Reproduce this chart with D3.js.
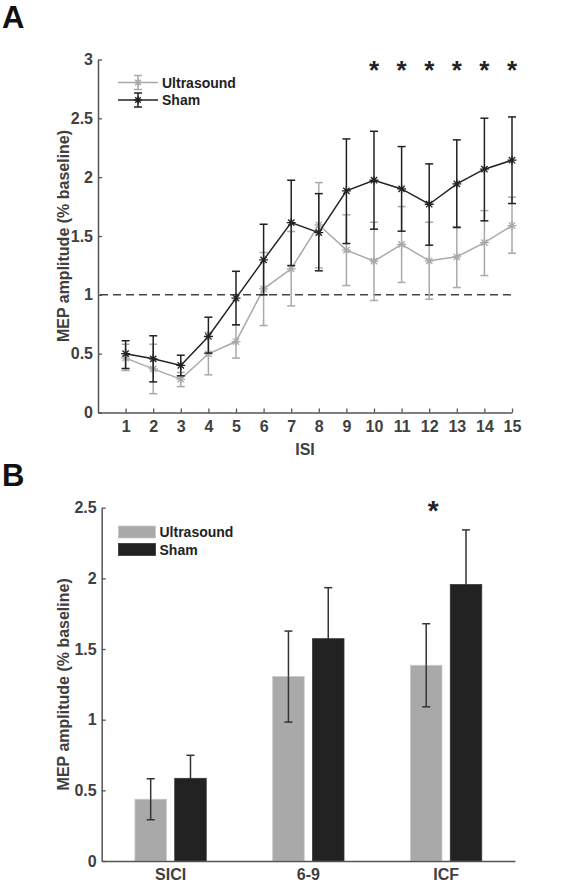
<!DOCTYPE html>
<html>
<head>
<meta charset="utf-8">
<script src="https://cdn.jsdelivr.net/npm/d3@7"></script>
<style>
  html, body { margin: 0; padding: 0; background: #fff; }
  svg { display: block; font-family: Arial, "Liberation Sans", sans-serif; }
</style>
</head>
<body>
<svg id="chart" width="566" height="884"></svg>
<script>
// ---------- Panel A data ----------
const isi = [1,2,3,4,5,6,7,8,9,10,11,12,13,14,15];
const shamMean = [0.50,0.456,0.40,0.646,0.972,1.297,1.614,1.529,1.884,1.974,1.90,1.77,1.943,2.068,2.144];
const shamLow  = [0.374,0.26,0.312,0.505,0.745,1.0,1.249,1.204,1.436,1.558,1.541,1.422,1.572,1.629,1.776];
const shamHigh = [0.61,0.652,0.487,0.81,1.20,1.60,1.974,1.86,2.325,2.39,2.26,2.113,2.317,2.501,2.512];
const usMean = [0.462,0.371,0.284,0.499,0.603,1.051,1.221,1.595,1.38,1.286,1.428,1.289,1.323,1.444,1.589];
const usLow  = [0.357,0.16,0.22,0.32,0.462,0.739,0.906,1.229,1.079,0.952,1.105,0.963,1.062,1.164,1.354];
const usHigh = [0.58,0.58,0.34,0.68,0.745,1.36,1.538,1.954,1.68,1.617,1.75,1.617,1.58,1.716,1.83];
const sigIsi = [10,11,12,13,14,15];
const yTicksA = [0,0.5,1,1.5,2,2.5,3];

// ---------- Panel B data ----------
const groups = ["SICI","6-9","ICF"];
const barUsMean = [0.437,1.305,1.385];
const barUsErr  = [0.145,0.322,0.294];
const barShamMean = [0.585,1.573,1.956];
const barShamErr  = [0.163,0.361,0.387];
const sigGroups = ["ICF"];
const yTicksB = [0,0.5,1,1.5,2,2.5];

const seriesNames = ["Ultrasound","Sham"];
const cUs = "#a9a9a9", cSham = "#222222", axisCol = "#555555", txtCol = "#404040";
const FS = 16;

const svg = d3.select("#chart");

function asterisk(g, x, y, color, r) {
  g.append("path")
    .attr("d", `M${x-r},${y}L${x+r},${y}M${x},${y-r}L${x},${y+r}` +
               `M${x-r*0.7},${y-r*0.7}L${x+r*0.7},${y+r*0.7}M${x-r*0.7},${y+r*0.7}L${x+r*0.7},${y-r*0.7}`)
    .attr("stroke", color).attr("stroke-width", 1.3).attr("fill", "none");
}

function styleAxis(g) {
  g.selectAll(".domain").attr("stroke", axisCol).attr("stroke-width", 1.5);
  g.selectAll(".tick line").attr("stroke", axisCol).attr("stroke-width", 1.3);
  g.selectAll(".tick text").attr("fill", txtCol).attr("font-size", FS).attr("font-weight", "bold")
    .attr("font-family", "Arial, 'Liberation Sans', sans-serif");
}

// ================= Panel A =================
const xA = d3.scaleLinear().domain([0,15]).range([98,512]);
const yA = d3.scaleLinear().domain([0,3]).range([412.5,59.5]);

svg.append("text").attr("x",2).attr("y",28).text("A")
  .attr("font-size",31).attr("font-weight","bold").attr("fill","#111");

const gAx = svg.append("g").attr("transform",`translate(0,${yA(0)})`)
  .call(d3.axisBottom(xA).tickValues(isi).tickSizeInner(-4).tickSizeOuter(0).tickPadding(8).tickFormat(d3.format("d")));
styleAxis(gAx);
const gAy = svg.append("g").attr("transform",`translate(${xA(0)},0)`)
  .call(d3.axisLeft(yA).tickValues(yTicksA).tickSizeInner(-4).tickSizeOuter(0).tickPadding(5).tickFormat(d => d));
styleAxis(gAy);

svg.append("text").attr("x", (xA(0)+xA(15))/2).attr("y", 455).attr("text-anchor","middle")
  .attr("font-size",FS).attr("font-weight","bold").attr("fill",txtCol).text("ISI");
svg.append("text").attr("transform",`translate(69,${(yA(0)+yA(3))/2}) rotate(-90)`)
  .attr("text-anchor","middle").attr("font-size",FS).attr("font-weight","bold").attr("fill",txtCol)
  .text("MEP amplitude (% baseline)");

svg.append("line").attr("x1",xA(0)+2).attr("x2",xA(15)).attr("y1",yA(1)).attr("y2",yA(1))
  .attr("stroke","#444").attr("stroke-width",1.5).attr("stroke-dasharray","8,5");

function drawSeries(mean, low, high, color) {
  const g = svg.append("g");
  isi.forEach((d,i) => {
    const x = xA(d);
    g.append("line").attr("x1",x).attr("x2",x).attr("y1",yA(low[i])).attr("y2",yA(high[i]))
      .attr("stroke",color).attr("stroke-width",1.5);
    [low[i],high[i]].forEach(v => g.append("line").attr("x1",x-4).attr("x2",x+4)
      .attr("y1",yA(v)).attr("y2",yA(v)).attr("stroke",color).attr("stroke-width",1.5));
  });
  const line = d3.line().x((d,i) => xA(isi[i])).y(d => yA(d));
  g.append("path").datum(mean).attr("d",line).attr("fill","none").attr("stroke",color).attr("stroke-width",1.5);
  mean.forEach((v,i) => asterisk(g, xA(isi[i]), yA(v), color, 4.5));
}
drawSeries(usMean, usLow, usHigh, cUs);
drawSeries(shamMean, shamLow, shamHigh, cSham);

sigIsi.forEach(d => {
  svg.append("text").attr("x", xA(d)).attr("y", 79).attr("text-anchor","middle")
    .attr("font-size",26).attr("font-weight","bold").attr("fill","#222").text("*");
});

// legend A
const legA = svg.append("g");
[[cUs, 82.5, seriesNames[0]], [cSham, 100, seriesNames[1]]].forEach(([c, y, t]) => {
  legA.append("line").attr("x1",118).attr("x2",158).attr("y1",y).attr("y2",y).attr("stroke",c).attr("stroke-width",1.5);
  legA.append("line").attr("x1",138).attr("x2",138).attr("y1",y-7).attr("y2",y+7).attr("stroke",c).attr("stroke-width",1.5);
  [y-7,y+7].forEach(yy => legA.append("line").attr("x1",134).attr("x2",142).attr("y1",yy).attr("y2",yy).attr("stroke",c).attr("stroke-width",1.5));
  asterisk(legA, 138, y, c, 4);
  legA.append("text").attr("x",162).attr("y",y+5).attr("font-size",14).attr("font-weight","bold").attr("fill","#222").text(t);
});

// ================= Panel B =================
const xB = d3.scaleBand().domain(groups).range([101.7, 515]).paddingInner(0).paddingOuter(0);
const yB = d3.scaleLinear().domain([0,2.5]).range([861,507.7]);
const barW = 31.5, off = 19.9;

svg.append("text").attr("x",2).attr("y",486).text("B")
  .attr("font-size",31).attr("font-weight","bold").attr("fill","#111");

const gBx = svg.append("g").attr("transform",`translate(0,${yB(0)})`)
  .call(d3.axisBottom(xB).tickSize(0).tickPadding(8));
styleAxis(gBx);
const gBy = svg.append("g").attr("transform",`translate(${101.7},0)`)
  .call(d3.axisLeft(yB).tickValues(yTicksB).tickSizeInner(-4).tickSizeOuter(0).tickPadding(5).tickFormat(d => d));
styleAxis(gBy);

svg.append("text").attr("transform",`translate(69,${(yB(0)+yB(2.5))/2}) rotate(-90)`)
  .attr("text-anchor","middle").attr("font-size",FS).attr("font-weight","bold").attr("fill",txtCol)
  .text("MEP amplitude (% baseline)");

const gBars = svg.append("g");
groups.forEach((gname,i) => {
  const cx = xB(gname) + xB.bandwidth()/2;
  [[barUsMean[i], cUs, -off], [barShamMean[i], cSham, off]].forEach(([m,c,o]) => {
    gBars.append("rect").attr("x", cx+o-barW/2).attr("y", yB(m)).attr("width", barW).attr("height", yB(0)-yB(m))
      .attr("fill", c).attr("stroke", c === cUs ? "#c8c8c8" : "#333").attr("stroke-width",0.8);
  });
});
groups.forEach((gname,i) => {
  const cx = xB(gname) + xB.bandwidth()/2;
  [[barUsMean[i], barUsErr[i], -off, "#333"], [barShamMean[i], barShamErr[i], off, cSham]].forEach(([m,e,o,lowCol]) => {
    const x = cx+o;
    gBars.append("line").attr("x1",x).attr("x2",x).attr("y1",yB(m)).attr("y2",yB(m+e)).attr("stroke","#333").attr("stroke-width",1.5);
    gBars.append("line").attr("x1",x).attr("x2",x).attr("y1",yB(m-e)).attr("y2",yB(m)).attr("stroke",lowCol).attr("stroke-width",1.5);
    gBars.append("line").attr("x1",x-4).attr("x2",x+4).attr("y1",yB(m+e)).attr("y2",yB(m+e)).attr("stroke","#333").attr("stroke-width",1.5);
    gBars.append("line").attr("x1",x-4).attr("x2",x+4).attr("y1",yB(m-e)).attr("y2",yB(m-e)).attr("stroke",lowCol).attr("stroke-width",1.5);
  });
});
gBx.raise();

sigGroups.forEach(gname => {
  const cx = xB(gname) + xB.bandwidth()/2;
  svg.append("text").attr("x", cx-13).attr("y", 520).attr("text-anchor","middle")
    .attr("font-size",28).attr("font-weight","bold").attr("fill","#222").text("*");
});

// legend B
const legB = svg.append("g");
[[cUs, 526, seriesNames[0]], [cSham, 543.5, seriesNames[1]]].forEach(([c, y, t]) => {
  legB.append("rect").attr("x",118.5).attr("y",y).attr("width",37).attr("height",12).attr("fill",c)
    .attr("stroke", c === cUs ? "#c8c8c8" : "#333").attr("stroke-width",0.8);
  legB.append("text").attr("x",159.5).attr("y",y+11).attr("font-size",14).attr("font-weight","bold").attr("fill","#222").text(t);
});
</script>
</body>
</html>
